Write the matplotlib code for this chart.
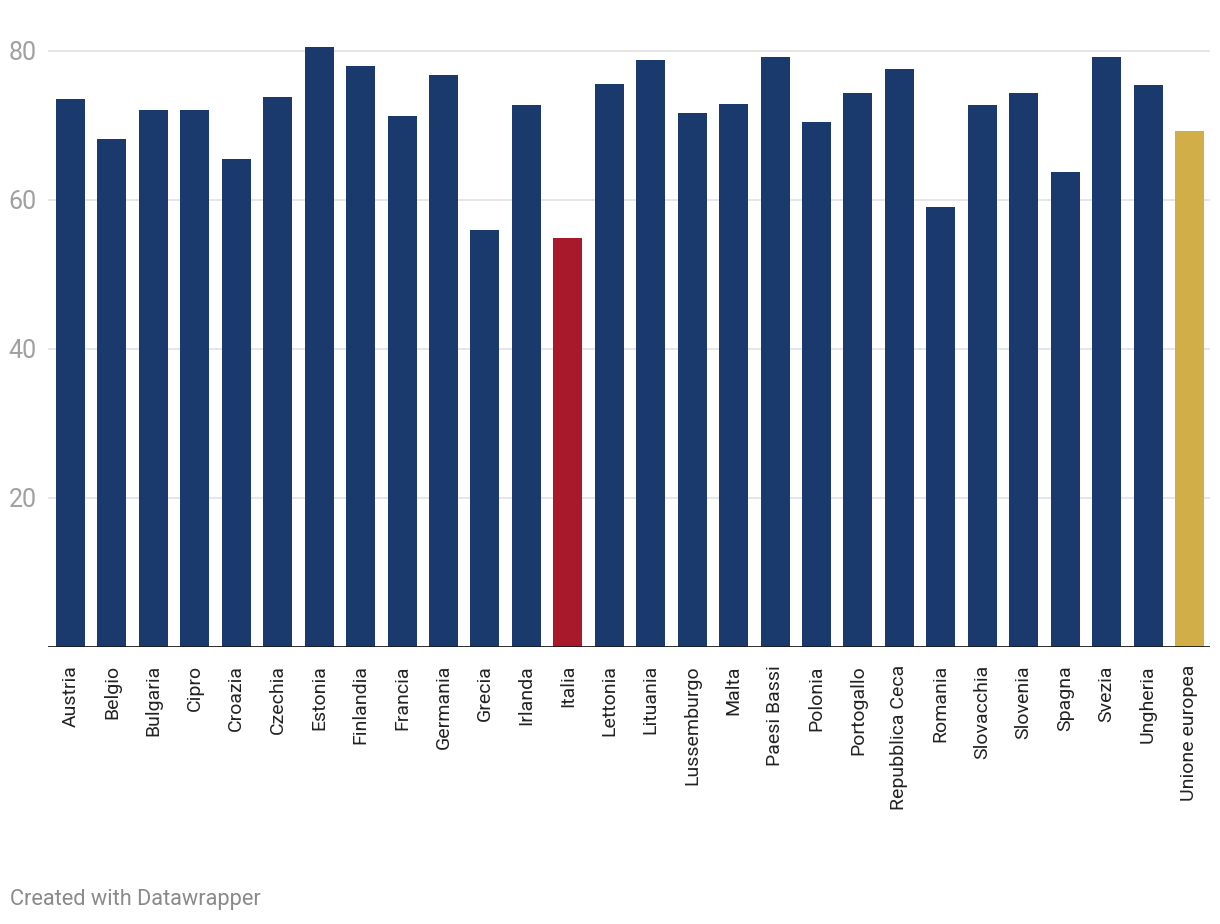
import matplotlib
matplotlib.use("Agg")
import matplotlib.pyplot as plt

plt.rcParams['font.family'] = ['Roboto', 'DejaVu Sans']

paesi = ["Austria", "Belgio", "Bulgaria", "Cipro", "Croazia", "Czechia", "Estonia",
         "Finlandia", "Francia", "Germania", "Grecia", "Irlanda", "Italia", "Lettonia",
         "Lituania", "Lussemburgo", "Malta", "Paesi Bassi", "Polonia", "Portogallo",
         "Repubblica Ceca", "Romania", "Slovacchia", "Slovenia", "Spagna", "Svezia",
         "Ungheria", "Unione europea"]
valori = [73.5, 68.1, 72.1, 72.1, 65.5, 73.8, 80.5,
          77.9, 71.2, 76.7, 55.9, 72.7, 54.9, 75.5,
          78.7, 71.6, 72.9, 79.1, 70.4, 74.3,
          77.5, 59.1, 72.7, 74.3, 63.7, 79.1,
          75.4, 69.2]
y_ticks = [20, 40, 60, 80]

BLU = '#1a3a6d'
ROSSO = '#a8192b'
ORO = '#d1ae47'

colori = []
for p in paesi:
    if p == "Italia":
        colori.append(ROSSO)
    elif p == "Unione europea":
        colori.append(ORO)
    else:
        colori.append(BLU)

fig = plt.figure(figsize=(12.2, 9.24), dpi=100)
ax = fig.add_axes([48 / 1220, 1 - 647 / 924, (1210 - 48) / 1220, (647 - 40) / 924])

x = range(len(paesi))
ax.bar(x, valori, width=0.7, color=colori, zorder=3)

ax.set_xlim(-0.543, len(paesi) - 1 + 0.495)
ax.set_ylim(0, 80 + 10.7 / 7.43)

# griglia orizzontale
for t in y_ticks:
    ax.axhline(t, color='#e6e6e6', linewidth=1.4, zorder=1)
ax.axhline(0, color='#1a1a1a', linewidth=2, zorder=4)

for s in ax.spines.values():
    s.set_visible(False)

ax.set_yticks(y_ticks)
ax.set_yticklabels([str(t) for t in y_ticks])
ax.tick_params(axis='y', length=0, pad=8, labelsize=18, labelcolor='#a0a0a0')

ax.set_xticks(list(x))
ax.set_xticklabels(paesi, rotation=90)
ax.tick_params(axis='x', length=0, pad=13, labelsize=14, labelcolor='#222222')

fig.text(10 / 1220, 1 - 899 / 924, "Created with Datawrapper", fontsize=15.7,
         color='#8a8a8a', ha='left', va='center')

fig.savefig("out.png", dpi=100)
